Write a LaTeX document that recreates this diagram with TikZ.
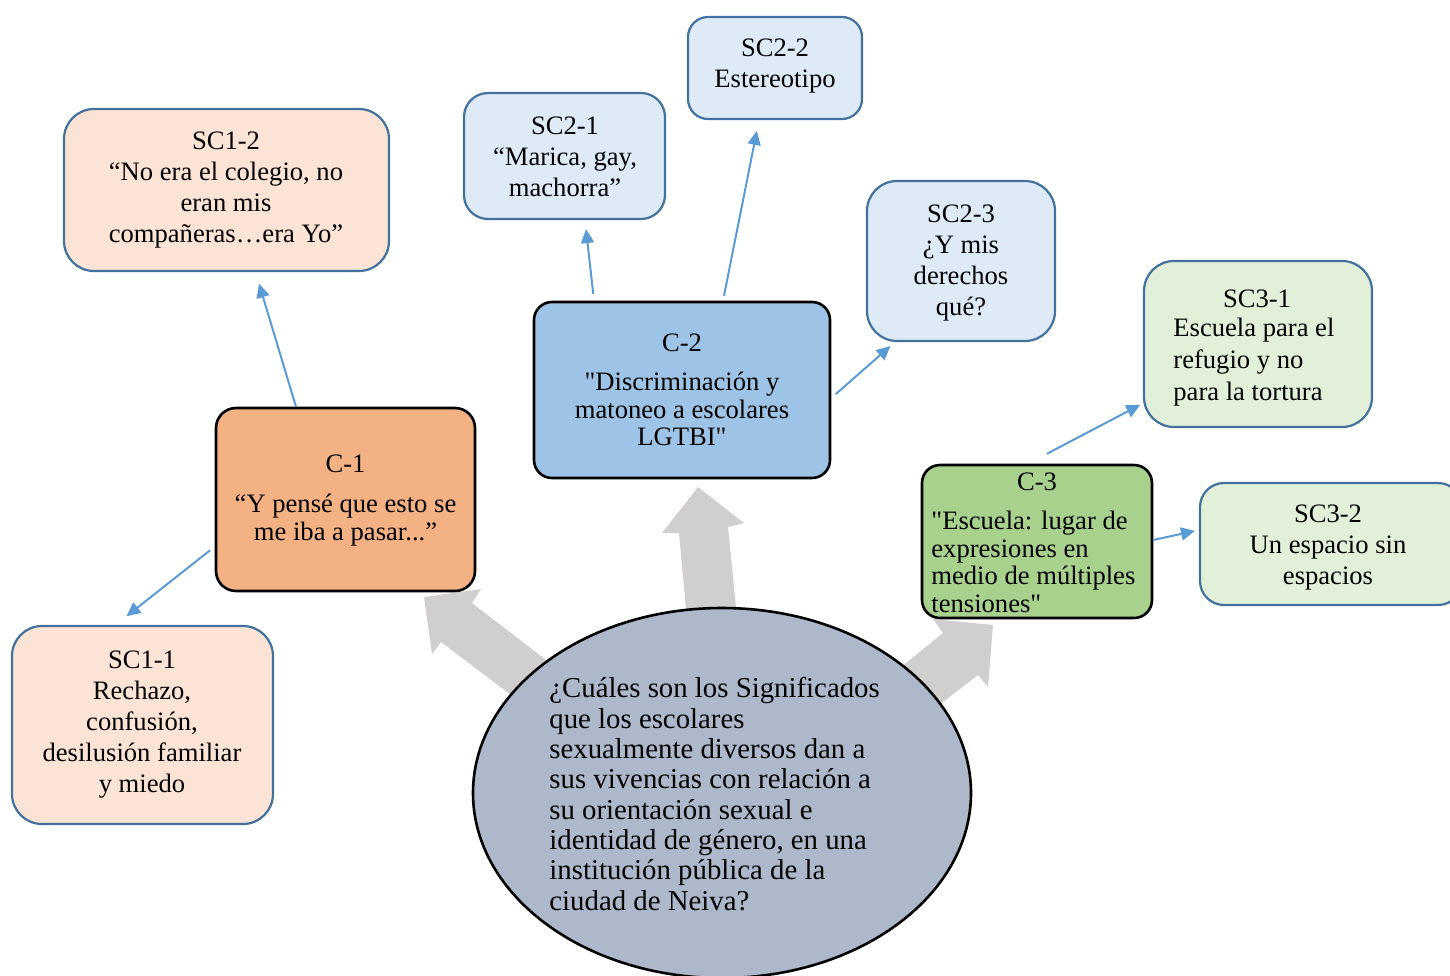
\documentclass[tikz,border=0pt]{standalone}
\usepackage{fontspec}
\setmainfont{Liberation Serif}[Ligatures=TeXOff]
\usetikzlibrary{arrows.meta,calc,shapes.geometric}
\definecolor{scborder}{HTML}{41719C}
\definecolor{linkblue}{HTML}{5B9BD5}
\definecolor{peach}{HTML}{FBE4D5}
\definecolor{orangeA}{HTML}{F4B183}
\definecolor{blueA}{HTML}{9DC3E6}
\definecolor{lblue}{HTML}{DEEBF7}
\definecolor{lgreen}{HTML}{E2F0D9}
\definecolor{greenA}{HTML}{A9D18E}
\definecolor{ellfill}{HTML}{ADB9CA}
\definecolor{garrow}{HTML}{D0CECE}
\begin{document}
\begin{tikzpicture}[x=0.5pt,y=-0.5pt,
 boxbase/.style={rectangle, inner sep=0pt},
 scbox/.style={boxbase, draw=scborder, line width=1.1pt, rounded corners=15pt},
 cbox/.style={boxbase, draw=black, line width=1.3pt, rounded corners=10pt},
 txt/.style={inner sep=0pt, align=center, font=\fontsize{13.3}{15.5}\selectfont},
 ltxt/.style={inner sep=0pt, align=left, anchor=west, font=\fontsize{13.3}{15.8}\selectfont},
 ctxt/.style={inner sep=0pt, align=center, font=\fontsize{13.3}{13.75}\selectfont},
 link/.style={draw=linkblue, line width=1pt, -{Triangle[length=7pt,width=6.5pt]}},
 bigarrow/.style={fill=garrow, draw=none}]
\useasboundingbox (0,0) rectangle (1450,975);

% gray block arrows (behind)
\fill[bigarrow] (698,487) -- (744,523) -- (728,527) -- (737,618) -- (687,620) -- (679,533) -- (662,533) -- cycle;
\fill[bigarrow] (424,597) -- (481,589) -- (472,603) -- (550,663) -- (519,701) -- (441,642) -- (432,654) -- cycle;
\fill[bigarrow] (993,625) -- (988,687) -- (978,675) -- (930,712) -- (895,672) -- (943,633) -- (933,619) -- cycle;

% central ellipse
\node[ellipse, draw=black, line width=1.3pt, fill=ellfill, inner sep=0pt,
      minimum width=249pt, minimum height=185pt] (q) at (722,793) {};
\node[inner sep=0pt, align=left, anchor=west, font=\fontsize{14.4}{15.15}\selectfont] (qt) at (549,794)
 {¿Cuáles son los Significados\\que los escolares\\sexualmente diversos dan a\\sus vivencias con relación a\\su orientación sexual e\\identidad de género, en una\\institución pública de la\\ciudad de Neiva?};

% boxes
\node[scbox, fill=peach, minimum width=162.5pt, minimum height=81pt] (sc12) at (226.5,190) {};
\node[scbox, fill=peach, minimum width=130.5pt, minimum height=99pt] (sc11) at (142.5,725) {};
\node[cbox, fill=orangeA, minimum width=129.5pt, minimum height=91.5pt] (c1) at (345.5,499.5) {};
\node[cbox, fill=blueA, minimum width=148pt, minimum height=88pt, rounded corners=9pt] (c2) at (682,390) {};
\node[scbox, fill=lblue, minimum width=100.5pt, minimum height=63pt, rounded corners=12pt] (sc21) at (564.5,156) {};
\node[scbox, fill=lblue, minimum width=87pt, minimum height=51pt, rounded corners=10pt] (sc22) at (775,68) {};
\node[scbox, fill=lblue, minimum width=94pt, minimum height=80pt] (sc23) at (961,261) {};
\node[scbox, fill=lgreen, minimum width=114pt, minimum height=83pt] (sc31) at (1258,344) {};
\node[scbox, fill=lgreen, minimum width=131pt, minimum height=61pt, rounded corners=12pt] (sc32) at (1331,544) {};
\node[cbox, fill=greenA, minimum width=115pt, minimum height=76.5pt, rounded corners=9pt] (c3) at (1037,541.5) {};

% texts
\node[txt] (t12) at (226,190.5) {SC1-2\\“No era el colegio, no\\eran mis\\compañeras…era Yo”};
\node[txt] (t11) at (142,725) {SC1-1\\Rechazo,\\confusión,\\desilusión familiar\\y miedo};
\node[ctxt] (t1) at (345.5,500.5) {C-1\\[6.2pt]“Y pensé que esto se\\me iba a pasar...”};
\node[ctxt] (t2) at (682,390) {C-2\\[5.8pt]"Discriminación y\\matoneo a escolares\\LGTBI"};
\node[txt] (t21) at (565,157) {SC2-1\\“Marica, gay,\\machorra”};
\node[txt] (t22) at (775,66) {SC2-2\\Estereotipo};
\node[txt] (t23) at (961,263) {SC2-3\\¿Y mis\\derechos\\qué?};
\node[txt] (t31h) at (1257,299) {SC3-1};
\node[ltxt] (t31) at (1173,362) {Escuela para el\\refugio y no\\para la tortura};
\node[txt] (t32) at (1328,547.5) {SC3-2\\Un espacio sin\\espacios};
\node[txt] (t3h) at (1037,482) {C-3};
\node[ltxt, font=\fontsize{13.3}{13.75}\selectfont] (t3) at (931,562) {"Escuela: lugar de\\expresiones en\\medio de múltiples\\tensiones"};

% connectors
\draw[link, shorten >=6pt] ($(c1.north)+(-49.5,0)$) -- ($(sc12.south)+(29,0)$);
\draw[link, shorten <=1pt, shorten >=7pt] ($(c1.west)+(-3,49.5)$) -- ($(sc11.north)+(-27,0)$);
\draw[link, shorten <=3.5pt, shorten >=4.5pt] ($(c2.north)+(-88,0)$) -- ($(sc21.south)+(20.5,0)$);
\draw[link, shorten <=2.5pt, shorten >=5.5pt] ($(c2.north)+(41,0)$) -- ($(sc22.south)+(-16,0)$);
\draw[link, shorten <=3pt, shorten >=3pt] ($(c2.east)+(0,8)$) -- ($(sc23.south)+(-66,0)$);
\draw[link, shorten <=10.7pt, shorten >=1.5pt] ($(c3.north)+(-9,0)$) -- ($(sc31.west)+(0,59.4)$);
\draw[link, shorten >=2pt] ($(c3.east)+(0,-1.5)$) -- ($(sc32.west)+(0,-14)$);
\end{tikzpicture}
\end{document}
